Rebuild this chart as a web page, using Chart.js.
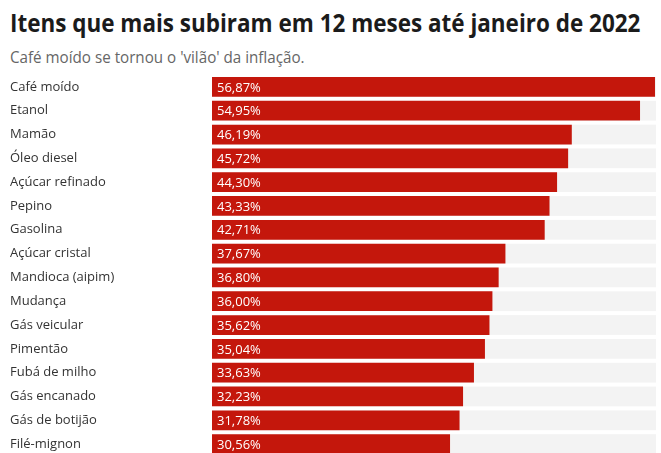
<!DOCTYPE html>
<html>
<head>
<meta charset="utf-8">
<script src="https://cdn.jsdelivr.net/npm/chart.js@4.4.1/dist/chart.umd.min.js"></script>
<style>
  html, body { margin: 0; padding: 0; background: #fff; overflow: hidden; width: 661px; height: 453px; }
  #title { position: absolute; left: 10px; top: 5px; font: 700 25px 'Open Sans'; color: #1b1b1b; white-space: nowrap; transform-origin: 0 0; }
  #sub { position: absolute; left: 10px; top: 46px; font: 400 16px 'Open Sans'; color: #666; white-space: nowrap; transform-origin: 0 0; }
  #wrap { position: absolute; left: 0; top: 75px; width: 661px; height: 381px; }
</style>
</head>
<body>
<div id="title">Itens que mais subiram em 12 meses até janeiro de 2022</div>
<div id="sub">Café moído se tornou o 'vilão' da inflação.</div>
<div id="wrap"><canvas id="chart"></canvas></div>
<script>
const items = [
  'Café moído', 'Etanol', 'Mamão', 'Óleo diesel', 'Açúcar refinado', 'Pepino',
  'Gasolina', 'Açúcar cristal', 'Mandioca (aipim)', 'Mudança', 'Gás veicular',
  'Pimentão', 'Fubá de milho', 'Gás encanado', 'Gás de botijão', 'Filé-mignon'
];
const altas = [
  56.87, 54.95, 46.19, 45.72, 44.30, 43.33,
  42.71, 37.67, 36.80, 36.00, 35.62,
  35.04, 33.63, 32.23, 31.78, 30.56
];

// squeeze the headings to the width they take in the original
function fit(id, w) {
  const el = document.getElementById(id);
  el.style.transform = 'scaleX(' + (w / el.offsetWidth) + ')';
}
fit('title', 630);
fit('sub', 295);

const fmt = v => v.toFixed(2).replace('.', ',') + '%';

const trackPlugin = {
  id: 'track',
  beforeDatasetsDraw(chart) {
    const { ctx, chartArea } = chart;
    ctx.save();
    ctx.fillStyle = '#f3f3f3';
    chart.getDatasetMeta(0).data.forEach(bar => {
      ctx.fillRect(chartArea.left, bar.y - bar.height / 2, chartArea.right - chartArea.left, bar.height);
    });
    ctx.restore();
  }
};

const valuePlugin = {
  id: 'values',
  afterDatasetsDraw(chart) {
    const { ctx, chartArea } = chart;
    ctx.save();
    ctx.fillStyle = '#fff';
    ctx.font = "13px 'Open Sans'";
    ctx.textBaseline = 'middle';
    ctx.textAlign = 'left';
    chart.getDatasetMeta(0).data.forEach((bar, i) => {
      ctx.fillText(fmt(altas[i]), chartArea.left + 5, bar.y + 1);
    });
    ctx.restore();
  }
};

new Chart(document.getElementById('chart'), {
  type: 'bar',
  data: {
    labels: items,
    datasets: [{
      data: altas,
      backgroundColor: '#c4170c',
      borderWidth: 0,
      barPercentage: 0.83,
      categoryPercentage: 1
    }]
  },
  options: {
    indexAxis: 'y',
    responsive: true,
    maintainAspectRatio: false,
    animation: false,
    layout: { padding: { left: 10, right: 5, top: 0, bottom: 0 } },
    plugins: { legend: { display: false }, tooltip: { enabled: false } },
    scales: {
      x: { display: false, min: 0, max: 57 },
      y: {
        grid: { display: false },
        border: { display: false },
        ticks: {
          crossAlign: 'far',
          color: '#333',
          font: { family: 'Open Sans', size: 13 },
          padding: 0
        },
        afterFit(scale) {
          scale.width = 202;
          scale.paddingTop = 0;
          scale.paddingBottom = 0;
        }
      }
    }
  },
  plugins: [trackPlugin, valuePlugin]
});
</script>
</body>
</html>
